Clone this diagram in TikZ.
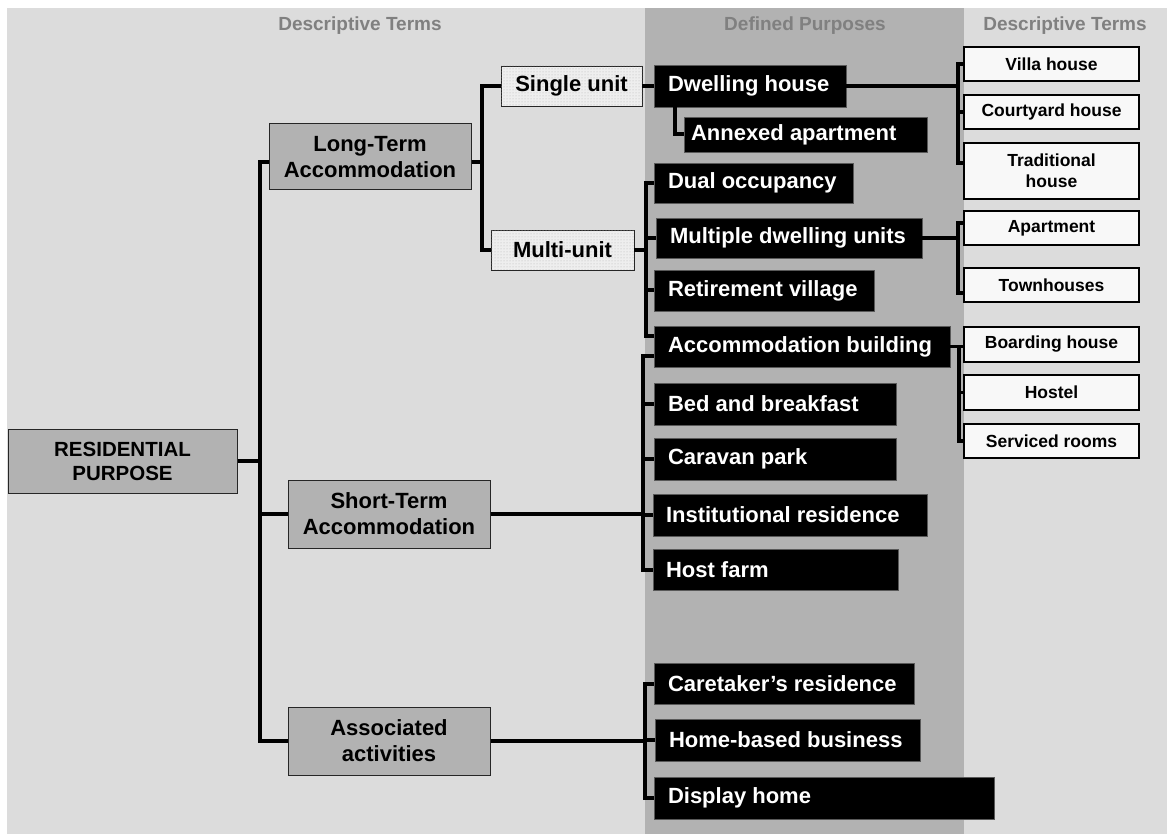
\documentclass[tikz,border=0pt]{standalone}
\usepackage{fontspec}
\newfontfamily\lsans{Liberation Sans}
\usetikzlibrary{calc,patterns}
\definecolor{bglight}{HTML}{DCDCDC}
\definecolor{bgdark}{HTML}{B2B2B2}
\definecolor{boxgray}{HTML}{B2B2B2}
\definecolor{headgray}{HTML}{808080}
\definecolor{wfill}{HTML}{F8F8F8}
\definecolor{dotfill}{HTML}{EEEEEE}
\newcommand{\bigf}{\lsans\bfseries\fontsize{22}{26}\selectfont}
\newcommand{\resf}{\lsans\bfseries\fontsize{20.5}{24}\selectfont}
\newcommand{\smallf}{\lsans\bfseries\fontsize{17.5}{21}\selectfont}
\newcommand{\headf}{\lsans\bfseries\fontsize{19}{22}\selectfont}
\newcommand{\bt}[2]{\makebox[#1pt][l]{#2}}
\begin{document}
\begin{tikzpicture}[x=1pt,y=-1pt,
  conn/.style={line width=4pt, line join=miter},
  rconn/.style={line width=3.5pt, line join=miter},
  head/.style={text=headgray, font=\headf, inner sep=0pt},
  graybox/.style={fill=boxgray, draw=black!85, line width=1pt, align=center, inner sep=0pt, font=\bigf, minimum width=202},
  dotbox/.style={fill=dotfill, draw=black!85, line width=0.8pt, postaction={pattern=dots, pattern color=black!30}, inner sep=0pt, font=\bigf, minimum height=40},
  blk/.style={fill=black, draw=black!65, line width=0.8pt, text=white, inner xsep=14pt, inner ysep=0pt, font=\bigf},
  wbox/.style={fill=wfill, draw=black, line width=1.2pt, align=center, inner sep=0pt, minimum width=175, font=\smallf},
]
\useasboundingbox (0,0) rectangle (1167,834);
\fill[white] (0,0) rectangle (1167,834);
\fill[bglight] (7,8) rectangle (1167,834);
\fill[bgdark] (645,8) rectangle (964,834);

% headers
\node[head] (h1) at (360,26) {Descriptive Terms};
\node[head] (h2) at (805,26) {Defined Purposes};
\node[head] (h3) at (1065,26) {Descriptive Terms};

% left gray boxes
\node[graybox, minimum width=229, minimum height=64, font=\resf] (res) at (122.5,461) {RESIDENTIAL\\PURPOSE};
\node[graybox, minimum height=66] (lta) at (370,157) {Long-Term\\Accommodation};
\node[graybox, minimum height=68] (sta) at (389,514) {Short-Term\\Accommodation};
\node[graybox, minimum height=68] (aa) at (389,741) {Associated\\activities};

% dotted boxes
\node[dotbox, minimum width=141] (su) at (571.5,86) {Single unit};
\node[dotbox, minimum width=143] (mu) at (562.5,250) {Multi-unit};

% black boxes
\node[blk, minimum height=42] (dh) at (750,86) {\bt{164}{Dwelling house}};
\node[blk, minimum height=35, inner xsep=7pt] (ap) at (805.5,134.5) {\bt{229}{Annexed apartment}};
\node[blk, minimum height=40] (du) at (753.5,183) {\bt{171}{Dual occupancy}};
\node[blk, minimum height=40] (mdu) at (789,238) {\bt{238}{Multiple dwelling units}};
\node[blk, minimum height=41] (rv) at (764,290.5) {\bt{192}{Retirement village}};
\node[blk, minimum height=41] (ab) at (802,346.5) {\bt{268}{Accommodation building}};
\node[blk, minimum height=42] (bb) at (775,404) {\bt{214}{Bed and breakfast}};
\node[blk, minimum height=42] (cp) at (775,459) {\bt{214}{Caravan park}};
\node[blk, minimum height=42, inner xsep=13pt] (ir) at (790,515) {\bt{248}{Institutional residence}};
\node[blk, minimum height=41, inner xsep=13pt] (hf) at (775.5,569.5) {\bt{219}{Host farm}};
\node[blk, minimum height=41] (cr) at (784,683.5) {\bt{232}{Caretaker’s residence}};
\node[blk, minimum height=42] (hb) at (787.5,740) {\bt{237}{Home-based business}};
\node[blk, minimum height=42] (dsp) at (824,798) {\bt{312}{Display home}};

% right white boxes
\node[wbox, minimum height=34] (vh) at (1051.5,64) {Villa house};
\node[wbox, minimum height=34] (ch) at (1051.5,112) {Courtyard house};
\node[wbox, minimum height=56] (th) at (1051.5,171) {Traditional\\house};
\node[wbox, minimum height=34] (apt) at (1051.5,228) {Apartment};
\node[wbox, minimum height=34] (tw) at (1051.5,285) {Townhouses};
\node[wbox, minimum height=35] (bh) at (1051.5,344.5) {Boarding house};
\node[wbox, minimum height=35] (ho) at (1051.5,392.5) {Hostel};
\node[wbox, minimum height=34] (sr) at (1051.5,441) {Serviced rooms};

% bracket x positions
\coordinate (T) at (260,0);
\coordinate (L2) at (482,0);
\coordinate (B1) at (958,0);
\coordinate (B2) at (646,0);
\coordinate (B3) at (643,0);
\coordinate (B4) at (645,0);
\coordinate (B5) at (958,0);
\coordinate (B6) at (959,0);
\coordinate (DX) at (675,0);

\coordinate (ltaW) at ($(lta.west)+(0,5)$);
\coordinate (ltaE) at ($(lta.east)+(0,5)$);
\coordinate (thT) at ($(th.west)+(0,-8)$);
\coordinate (abU) at ($(ab.west)+(0,-11)$);
\coordinate (abL) at ($(ab.west)+(0,9)$);
\coordinate (aptT) at ($(apt.west)+(0,-5)$);
\coordinate (twT) at ($(tw.west)+(0,8)$);

% main trunk
\draw[conn] (ltaW) -| (T |- aa.west) -- (aa.west);
\draw[conn] (res.east) -- (T |- res.east);
\draw[conn] (T |- sta.west) -- (sta.west);

% long-term
\draw[conn] (ltaE) -- (L2 |- ltaE);
\draw[conn] (su.west) -| (L2 |- mu.west) -- (mu.west);

% single unit
\draw[conn] (su.east) -- (dh.west);
\draw[conn] (DX |- dh.south) |- (ap.west);
\draw[rconn] (dh.east) -- (B1 |- dh.east);
\draw[rconn] (vh.west) -| (B1 |- thT) -- (thT);
\draw[rconn] (B1 |- ch.west) -- (ch.west);

% multi-unit
\draw[conn] (mu.east) -- (B2 |- mu.east);
\draw[conn] (du.west) -| (B2 |- abU) -- (abU);
\draw[conn] (B2 |- mdu.west) -- (mdu.west);
\draw[conn] (B2 |- rv.west) -- (rv.west);
\draw[rconn] (mdu.east) -- (B5 |- mdu.east);
\draw[rconn] (aptT) -| (B5 |- twT) -- (twT);

% accommodation building
\draw[rconn] (ab.east) -- (B6 |- ab.east) |- (sr.west);
\draw[rconn] (B6 |- ab.east) -- (ab.east -| bh.west);
\draw[rconn] (B6 |- ho.west) -- (ho.west);

% short-term
\draw[conn] (sta.east) -- (B3 |- sta.east);
\draw[conn] (abL) -| (B3 |- hf.west) -- (hf.west);
\draw[conn] (B3 |- bb.west) -- (bb.west);
\draw[conn] (B3 |- cp.west) -- (cp.west);
\draw[conn] (B3 |- ir.west) -- (ir.west);

% associated
\draw[conn] (aa.east) -- (B4 |- aa.east);
\draw[conn] (cr.west) -| (B4 |- dsp.west) -- (dsp.west);
\draw[conn] (B4 |- hb.west) -- (hb.west);
\end{tikzpicture}
\end{document}
